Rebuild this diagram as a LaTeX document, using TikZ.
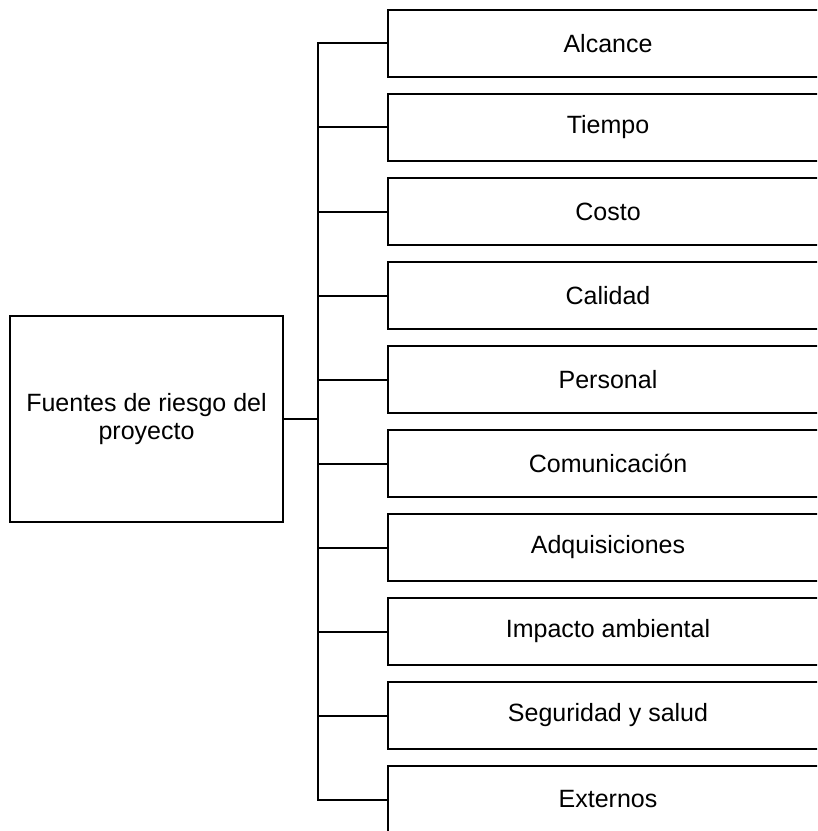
\documentclass[tikz,border=0pt]{standalone}
\usepackage{fontspec}
\setmainfont{Liberation Sans}
\begin{document}
\begin{tikzpicture}[
  x=0.75pt, y=-0.75pt,
  every node/.style={font=\fontsize{18.75pt}{21.6pt}\selectfont},
  sourcebox/.style={draw, line width=1.5pt, rectangle, minimum width=204.75pt,
    minimum height=154.5pt, align=center, inner sep=0pt},
  itembox/.style={draw, line width=1.5pt, rectangle, minimum width=330pt,
    minimum height=50.25pt, anchor=north west, inner sep=0pt},
  link/.style={line width=1.5pt}
]
% page area, boxes running past the right and bottom edges are cut off
\clip (0,0) rectangle (817,831);
\useasboundingbox (0,0) rectangle (817,831);
\fill[white] (0,0) rectangle (817,831);

% main box
\node[sourcebox] (src) at (146.5,419) {Fuentes de riesgo del\\proyecto};

% category boxes
\foreach \i/\t in {1/Alcance, 2/Tiempo, 3/Costo, 4/Calidad, 5/Personal,
                   6/Comunicación, 7/Adquisiciones, 8/Impacto ambiental,
                   9/Seguridad y salud, 10/Externos} {
  \node[itembox] (b\i) at (387, {9 + 84*(\i-1)}) {\t};
}

% bus line
\coordinate (bus) at (318,419);
\draw[link] (src.east) -- (bus);
\draw[link] (b1.west) -| (b10.west -| bus) -- (b10.west);
\foreach \i in {2,...,9} {
  \draw[link] (b\i.west -| bus) -- (b\i.west);
}
\end{tikzpicture}
\end{document}
